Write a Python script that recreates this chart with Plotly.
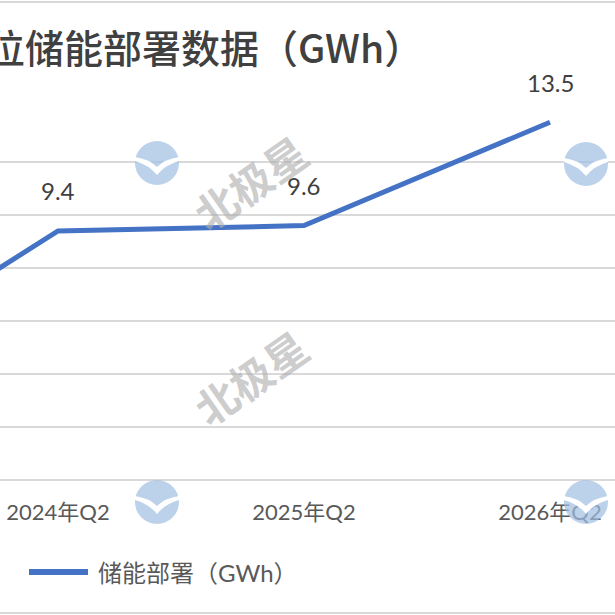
import plotly.graph_objects as go

# data (first quarter sits off the left edge of the crop)
quarters = ["2023年Q2", "2024年Q2", "2025年Q2", "2026年Q2"]
deploy_gwh = [3.5, 9.4, 9.6, 13.5]
series_name = "储能部署（GWh）"
title_text = "位储能部署数据（GWh）"

W, H = 615, 615
TOP, BOT = 109, 480   # pixel rows of the plot area


def px_x(p):
    return p / W


def px_y(p):
    return (BOT - p) / (BOT - TOP)


FONT = "Lato, 'Noto Sans CJK SC', sans-serif"
xs = list(range(len(quarters)))

fig = go.Figure()

fig.add_trace(go.Scatter(
    x=xs, y=deploy_gwh, mode="lines", name=series_name,
    line=dict(color="#4472C4", width=5), showlegend=False,
))

# data labels
for x, v in zip(xs, deploy_gwh):
    fig.add_annotation(x=x, y=v, text=f"{v:.1f}", showarrow=False,
                       yshift=40, font=dict(size=24, color="#404040", family=FONT))

# title, clipped at the left edge like the reference
fig.add_annotation(xref="paper", yref="paper", x=px_x(-16), y=px_y(46),
                   xanchor="left", yanchor="middle", showarrow=False,
                   text=title_text,
                   font=dict(size=39, color="#404040",
                             family="'Noto Sans CJK SC', sans-serif", weight=500))

# hand-made legend
fig.add_shape(type="line", xref="paper", yref="paper",
              x0=px_x(29), x1=px_x(88), y0=px_y(572), y1=px_y(572),
              line=dict(color="#4472C4", width=6))
fig.add_annotation(xref="paper", yref="paper", x=px_x(96), y=px_y(572),
                   xanchor="left", yanchor="middle", showarrow=False,
                   text=series_name,
                   font=dict(size=24, color="#595959", family=FONT))

# chart frame lines top/bottom
for yy in (2, 613):
    fig.add_shape(type="line", xref="paper", yref="paper",
                  x0=0, x1=1, y0=px_y(yy), y1=px_y(yy),
                  line=dict(color="#D9D9D9", width=2))

# watermark: logos and rotated text
for cx, cy in [(157, 163), (586, 164), (157, 502), (586, 502)]:
    fig.add_shape(type="circle", xref="paper", yref="paper",
                  x0=px_x(cx - 22), x1=px_x(cx + 22),
                  y0=px_y(cy - 22), y1=px_y(cy + 22),
                  fillcolor="rgba(160,190,225,0.7)", line=dict(width=0),
                  layer="above")
    fig.add_shape(type="path", xref="paper", yref="paper",
                  xsizemode="pixel", ysizemode="pixel",
                  xanchor=px_x(cx), yanchor=px_y(cy),
                  path="M-22,2 Q-8,-2 0,-12 Q8,-2 22,2 L22,6 Q8,4 0,-4 Q-8,4 -22,6 Z",
                  fillcolor="white", line=dict(width=0), layer="above")
for cx, cy in [(250, 118), (250, 440)]:
    fig.add_annotation(xref="paper", yref="paper", x=px_x(cx), y=px_y(cy),
                       text="北极星", showarrow=False, textangle=-35,
                       font=dict(size=42, color="rgba(175,175,175,0.65)",
                                 family="'Noto Sans CJK SC'", weight="bold"))

fig.update_layout(
    width=W, height=H,
    margin=dict(l=0, r=0, t=TOP, b=H - BOT, autoexpand=False),
    plot_bgcolor="white", paper_bgcolor="white",
    showlegend=False,
    xaxis=dict(range=[1 - 58 / 246, 1 + 557 / 246],
               tickvals=xs, ticktext=quarters, showgrid=False,
               zeroline=False, showline=False, ticks="",
               ticklabelstandoff=17,
               tickfont=dict(size=22, color="#595959", family=FONT)),
    yaxis=dict(range=[0, 14], dtick=2, showticklabels=False,
               showgrid=True, gridcolor="#D9D9D9", gridwidth=1.5,
               zeroline=True, zerolinecolor="#D9D9D9", zerolinewidth=1.5,
               showline=False),
)

fig.write_html("out.html", config={"displayModeBar": False},
               post_script="document.body.style.margin='0';")
